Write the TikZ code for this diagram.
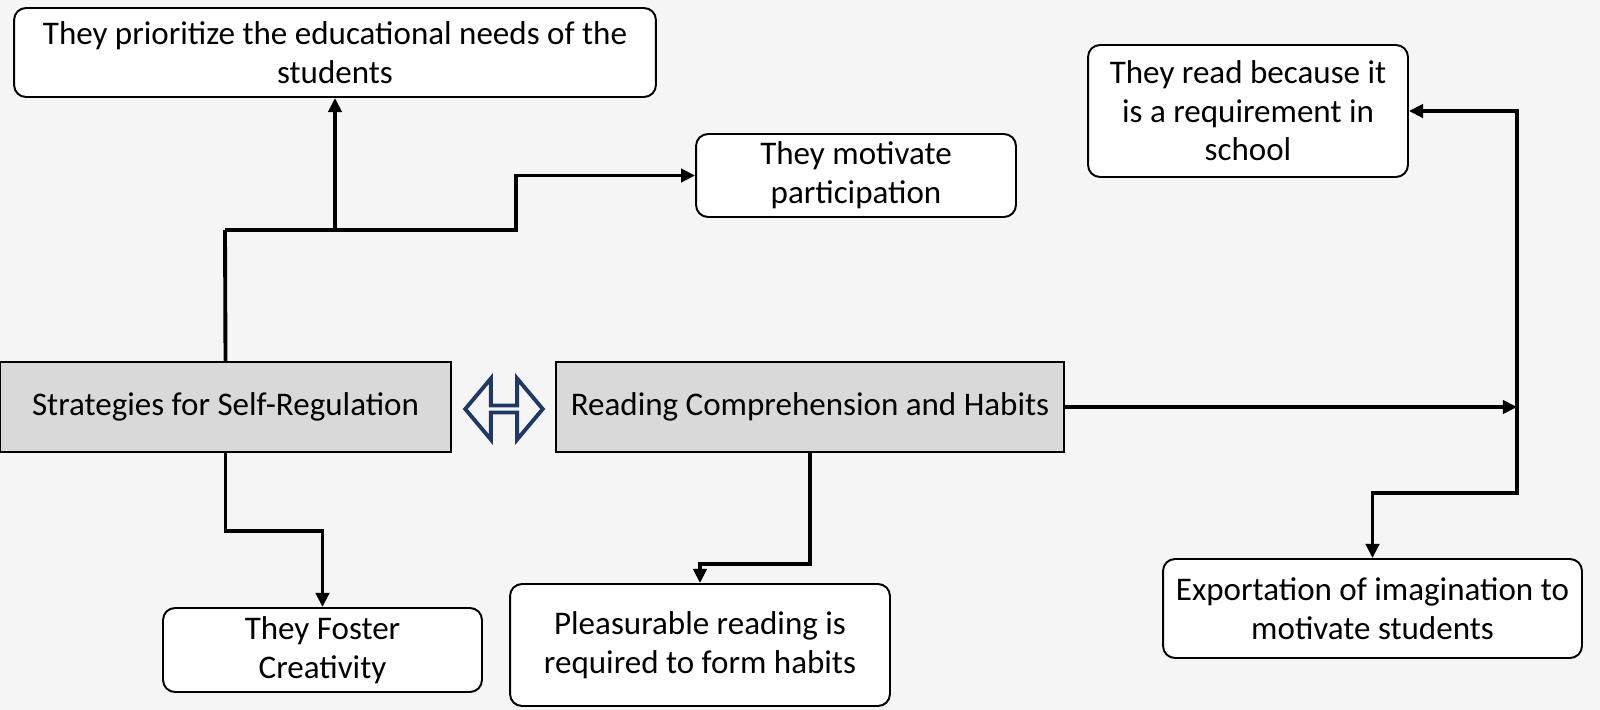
\documentclass[tikz,border=0pt]{standalone}
\usepackage{fontspec}
\setmainfont{Carlito}
\usepackage{xcolor}
\usepackage{tikz}
\usetikzlibrary{arrows.meta,shapes.arrows}

\definecolor{bgcol}{HTML}{F5F5F5}
\definecolor{maingray}{HTML}{D9D9D9}
\definecolor{navy}{HTML}{203864}

\begin{document}
\begin{tikzpicture}[
x=0.02cm,y=-0.02cm,
font=\fontsize{18.8pt}{22pt}\selectfont,
box/.style={
rectangle,draw,rounded corners=0.24cm,fill=white,
line width=1.1pt,align=center,inner sep=2pt
},
mainbox/.style={
rectangle,draw,fill=maingray,
line width=1.1pt,align=center,inner sep=2pt
},
arr/.style={-{Triangle[length=8pt,width=7.5pt]},line width=2.2pt},
line/.style={line width=2.2pt}
]

% BACKGROUND
\fill[bgcol] (0,0) rectangle (1600,710);
\useasboundingbox (0,0) rectangle (1600,710);

% CENTRE
\node[mainbox,minimum width=9.02cm,minimum height=1.8cm] (strat) at (225.5,407)
{Strategies for Self-Regulation};

\node[mainbox,minimum width=10.16cm,minimum height=1.8cm] (reading) at (810,407)
{Reading Comprehension and Habits};

\node[double arrow,draw=navy,line width=2.2pt,fill=bgcol,inner sep=0pt,
minimum height=1.55cm,minimum width=1.22cm,double arrow head extend=0.3cm,
double arrow tip angle=100] (link) at (504,409) {};

% UPPER LEFT
\node[box,minimum width=12.84cm,minimum height=1.78cm] (prior) at (335,52.5)
{They prioritize the educational needs of the\\students};

\node[box,minimum width=6.4cm,minimum height=1.66cm] (motiv) at (856,175.5)
{They motivate\\participation};

% LOWER
\node[box,minimum width=6.38cm,minimum height=1.68cm] (foster) at (322.5,650)
{They Foster\\Creativity};

\node[box,minimum width=7.6cm,minimum height=2.44cm] (pleasure) at (700,645)
{Pleasurable reading is\\required to form habits};

% RIGHT
\node[box,minimum width=6.4cm,minimum height=2.64cm] (school) at (1248,111)
{They read because it\\is a requirement in\\school};

\node[box,minimum width=8.38cm,minimum height=1.98cm] (export) at (1372.5,608.5)
{Exportation of imagination to\\motivate students};

% ARROWS
\coordinate (split) at (225,230);
\coordinate (hub) at (1517,407);

\draw[line] (strat.north) -- (split);
\draw[arr] (split) -- (516,230) |- (motiv.west);
\draw[arr] (split -| prior.south) -- (prior.south);

\draw[arr] (strat.south) -- ++(0,78) -| (foster.north);
\draw[arr] (reading.south) -- ++(0,111) -| (pleasure.north);

\draw[arr] (reading.east) -- (hub);
\draw[arr] (hub) |- (school.east);
\draw[arr] (hub) -- ++(0,86) -| (export.north);

\end{tikzpicture}
\end{document}
